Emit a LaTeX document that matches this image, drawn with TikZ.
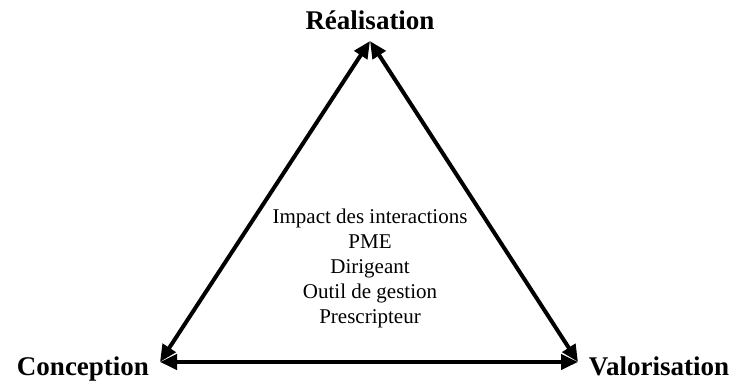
\documentclass[tikz,border=0pt]{standalone}
\usepackage{fontspec}
\setmainfont{Liberation Serif}
\usetikzlibrary{arrows.meta}
\tikzset{
  corner/.style={font=\fontsize{27}{30}\selectfont\bfseries, inner sep=0pt, anchor=base},
  body/.style={font=\fontsize{21}{25}\selectfont, inner sep=0pt, anchor=base},
  side/.style={line width=4pt, {Triangle[length=17pt,width=15pt]}-{Triangle[length=17pt,width=15pt]}}
}
\begin{document}
\begin{tikzpicture}[x=1pt,y=-1pt]
\useasboundingbox (0,0) rectangle (733,381);
% vertices
\coordinate (top) at (370,41);
\coordinate (bl) at (160,362);
\coordinate (br) at (578,362);
\draw[side] (bl) -- (top);
\draw[side] (top) -- (br);
\draw[side] (bl) -- (br);
% corner labels
\node[corner] (r) at (370,29) {Réalisation};
\node[corner] (c) at (83,375) {Conception};
\node[corner] (v) at (659,375) {Valorisation};
% centre text
\foreach \t/\yy/\n in {Impact des interactions/223/a, PME/248/b, Dirigeant/273/c, Outil de gestion/298/d, Prescripteur/323/e}{
  \node[body] (t\n) at (370,\yy) {\t};
}
\end{tikzpicture}
\end{document}
